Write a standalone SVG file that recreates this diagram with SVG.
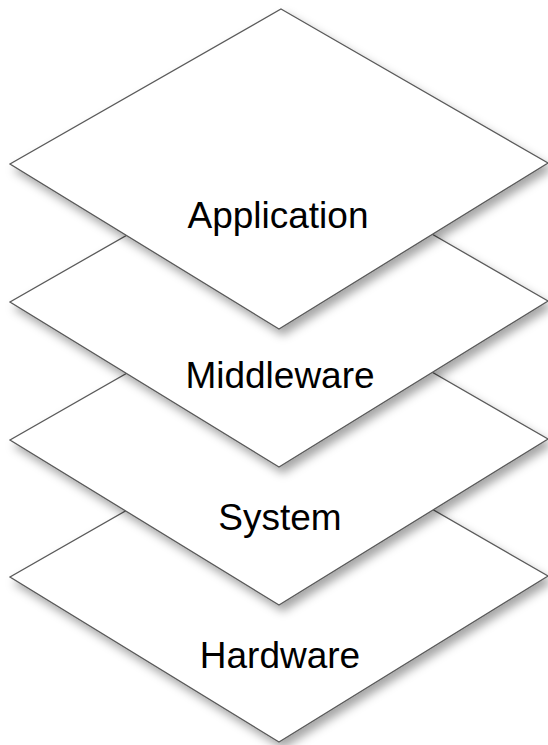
<svg xmlns="http://www.w3.org/2000/svg" width="548" height="745" viewBox="0 0 548 745">
  <defs>
    <filter id="shadow" x="-10%" y="-10%" width="125%" height="130%">
      <feDropShadow dx="4" dy="6" stdDeviation="5" flood-color="#000" flood-opacity="0.35"/>
    </filter>
    <!-- one layer plate; translated per layer -->
    <polygon id="plate" points="281,9 548,163 279,329 10,164"/>
  </defs>
  <style>
    .plate { fill: #ffffff; stroke: #5a5a5a; stroke-width: 1.3; filter: url(#shadow); }
    .label { font-family: "Liberation Sans", Arial, sans-serif; font-size: 37px; fill: #000; text-anchor: middle; }
  </style>
  <rect width="548" height="745" fill="#ffffff"/>
  <g id="hardware" transform="translate(0,413)">
    <use href="#plate" class="plate"/>
    <text class="label" x="280" y="255">Hardware</text>
  </g>
  <g id="system" transform="translate(0,276)">
    <use href="#plate" class="plate"/>
    <text class="label" x="280" y="254">System</text>
  </g>
  <g id="middleware" transform="translate(0,138)">
    <use href="#plate" class="plate"/>
    <text class="label" x="280" y="250">Middleware</text>
  </g>
  <g id="application">
    <use href="#plate" class="plate"/>
    <text class="label" x="278" y="228">Application</text>
  </g>
  <g id="connectors"/>
</svg>
